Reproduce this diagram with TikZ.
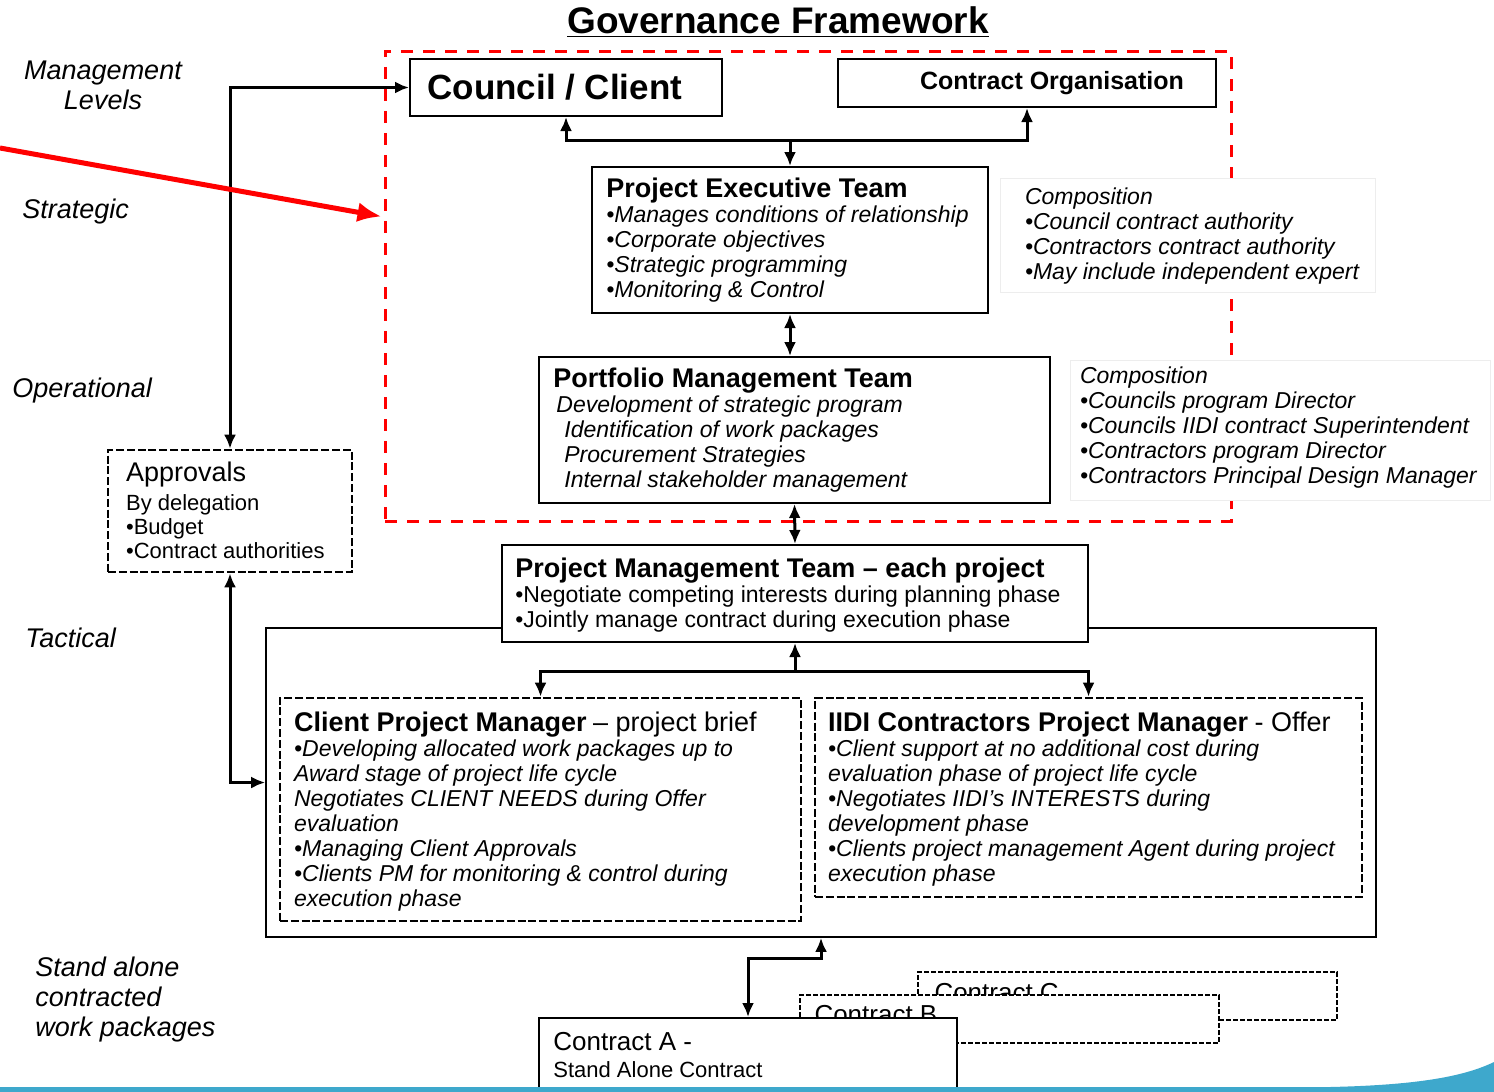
\documentclass[tikz,border=0pt]{standalone}
\usepackage{fontspec}
\setmainfont{Liberation Sans}
\usetikzlibrary{fit,arrows.meta}

\definecolor{slideblue}{RGB}{62,168,204}

\providecommand*{\wMax}{}
\providecommand*{\hMax}{}
\renewcommand*{\wMax}{1494}
\renewcommand*{\hMax}{1092}

\newcommand*{\boxhead}[1]{{\fontsize{13.5}{12.5}\selectfont\upshape\bfseries #1}}
\newcommand*{\boxtail}[1]{{\fontsize{13.5}{12.5}\selectfont\upshape #1}}

\tikzset{
  solidbox/.style={draw, line width=1pt, fill=white, inner sep=0pt},
  dashbox/.style={draw, line width=1.3pt, dash pattern=on 4pt off 1.4pt, fill=white, inner sep=0pt},
  faintdash/.style={draw, line width=0.9pt, dash pattern=on 2.5pt off 1pt, fill=white, inner sep=0pt},
  compbox/.style={draw=black!7, fill=white, inner sep=0pt},
  redframe/.style={draw=red, line width=1.5pt, dash pattern=on 6pt off 5pt, inner sep=0pt},
  redarrow/.style={draw=red, line width=2.5pt, -{Latex[length=12pt,width=10pt]}},
  link/.style={line width=1.5pt},
  txt/.style={inner sep=0pt, anchor=north west, align=left, font=\fontsize{11.5}{12.5}\selectfont},
  itxt/.style={txt, font=\fontsize{11.5}{12.5}\selectfont\itshape},
  lvltext/.style={inner sep=0pt, font=\fontsize{13.5}{15}\selectfont\itshape},
}

\begin{document}
\begin{tikzpicture}[x=0.5pt,y=-0.5pt,>={Latex[length=7pt,width=6pt]}]
  \useasboundingbox (0,0) rectangle (\wMax,\hMax);
  \node[anchor=base, inner sep=0pt, font=\fontsize{18.5}{20}\selectfont\bfseries] (title) at (778,33) {\underline{Governance Framework}};

  \node[lvltext, align=center] (mgmt) at (103,85) {Management\\Levels};
  \foreach \lab/\xx/\yy/\nm in {Strategic/22/212/strat,Operational/12/391/oper,Tactical/25/638/tact} {
    \node[lvltext, anchor=west] (\nm) at (\xx,\yy) {\lab};
  }
  \node[lvltext, align=left, anchor=west] (standalone) at (35,1000) {Stand alone\\contracted\\work packages};

  \node[redframe, fit={(385,51)(1231,521)}] (frame) {};
  \coordinate (redtail) at (0,148);
  \coordinate (redtip) at ([shift={(-2,167)}]frame.north west);

  \node[compbox, fit={(1000,178)(1375,292)}] (comp1) {};
  \node[itxt] (comp1txt) at ([shift={(25,10)}]comp1.north west) {Composition\\•Council contract authority\\•Contractors contract authority\\•May include  independent expert};
  \node[compbox, fit={(1070,360)(1490,500)}] (comp2) {};
  \node[itxt] (comp2txt) at ([shift={(10,7)}]comp2.north west) {Composition\\•Councils program  Director\\•Councils IIDI contract Superintendent\\•Contractors program  Director\\•Contractors Principal Design Manager};

  \node[solidbox, fit={(410,59)(722,116)}] (council) {};
  \node[anchor=west, inner sep=0pt, font=\fontsize{17.5}{18}\selectfont\bfseries] (counciltxt) at ([shift={(18,0)}]council.west) {Council / Client};
  \node[solidbox, fit={(838,59)(1216,107)}] (contract) {};
  \node[inner sep=0pt, font=\fontsize{12.5}{14}\selectfont\bfseries] (contracttxt) at ([shift={(25,0)}]contract.center) {Contract Organisation};

  \node[solidbox, fit={(592,167)(988,313)}] (pet) {};
  \node[itxt] (pettxt) at ([shift={(15,11.5)}]pet.north west) {\boxhead{Project Executive Team}\\•Manages conditions of relationship\\•Corporate objectives\\•Strategic programming\\•Monitoring \& Control};

  \node[solidbox, fit={(539,357)(1050,503)}] (pmt) {};
  \node[itxt] (pmttxt) at ([shift={(15,11.5)}]pmt.north west) {\boxhead{Portfolio Management Team}\\\hspace*{1.5pt}Development of strategic program\\\hspace*{5.5pt}Identification of work packages\\\hspace*{5.5pt}Procurement Strategies\\\hspace*{5.5pt}Internal stakeholder management};

  \node[solidbox, line width=0.8pt, fit={(266,628)(1376,937)}] (outer) {};

  \node[solidbox, fit={(502,545)(1088,642)}] (pjmt) {};
  \node[txt] (pjmttxt) at ([shift={(14,13.5)}]pjmt.north west) {\boxhead{Project Management Team – each project}\\•Negotiate competing interests during planning phase\\•Jointly manage contract during execution phase};

  \node[dashbox, fit={(280,698)(801,921)}] (cpm) {};
  \node[itxt] (cpmtxt) at ([shift={(15,14.5)}]cpm.north west) {\boxhead{Client Project Manager} \boxtail{– project brief}\\•Developing allocated work packages up to\\Award stage of project life cycle\\Negotiates CLIENT NEEDS during Offer\\evaluation\\•Managing Client Approvals\\•Clients PM for monitoring \& control during\\execution phase};

  \node[dashbox, fit={(815,698)(1362,897)}] (iidi) {};
  \node[itxt] (iiditxt) at ([shift={(14,14.5)}]iidi.north west) {\boxhead{IIDI Contractors Project Manager} \boxtail{- Offer}\\•Client support at no additional cost during\\evaluation phase of project life cycle\\•Negotiates IIDI's INTERESTS during\\development phase\\•Clients project management Agent during project\\execution phase};

  \node[dashbox, fit={(108,450)(352,572)}] (appr) {};
  \node[txt, font=\fontsize{11}{12}\selectfont] (apprtxt) at ([shift={(19,12.5)}]appr.north west) {{\fontsize{13.5}{12}\selectfont Approvals}\\[2.5pt]By delegation\\•Budget\\•Contract authorities};

  \node[faintdash, fit={(918,972)(1337,1020)}] (contc) {};
  \node[txt, font=\fontsize{13}{13.5}\selectfont] (contctxt) at ([shift={(17,12)}]contc.north west) {Contract C};
  \node[faintdash, fit={(800,995)(1219,1043)}] (contb) {};
  \node[txt, font=\fontsize{13}{13.5}\selectfont] (contbtxt) at ([shift={(15,11)}]contb.north west) {Contract B};
  \node[solidbox, fit={(539,1018)(957,1100)}] (conta) {};
  \node[txt, font=\fontsize{13}{13.5}\selectfont] (contatxt) at ([shift={(15,15)}]conta.north west) {Contract A -\\{\fontsize{11}{13.5}\selectfont Stand Alone Contract}};

  \coordinate (topbus) at (790,140);
  \coordinate (midbus) at (795,671);
  \coordinate (lowbus) at (785,958);
  \draw[link,<->] (council.south) |- (topbus) -| (contract.south);
  \draw[link,->] (topbus) -- (pet.north);
  \draw[link,<->] (pet.south) -- (pet.south |- pmt.north);
  \draw[link,<->] (pmt.south) -- (pjmt.north);
  \draw[link,->] (midbus) -- (pjmt.south);
  \draw[link,<->] (cpm.north) |- (midbus) -| (iidi.north);
  \draw[link,<->] (appr.north) |- (council.west);
  \draw[link,<->] (appr.south) |- (outer.west);
  \draw[link,<->] (outer.south) |- (lowbus) -| (conta.north);
  \draw[redarrow] (redtail) -- (redtip);

  \fill[slideblue] (0,1092) -- (0,1087) -- (1330,1087) .. controls (1420,1085) and (1465,1076) .. (1494,1062) -- (1494,1092) -- cycle;
\end{tikzpicture}
\end{document}
